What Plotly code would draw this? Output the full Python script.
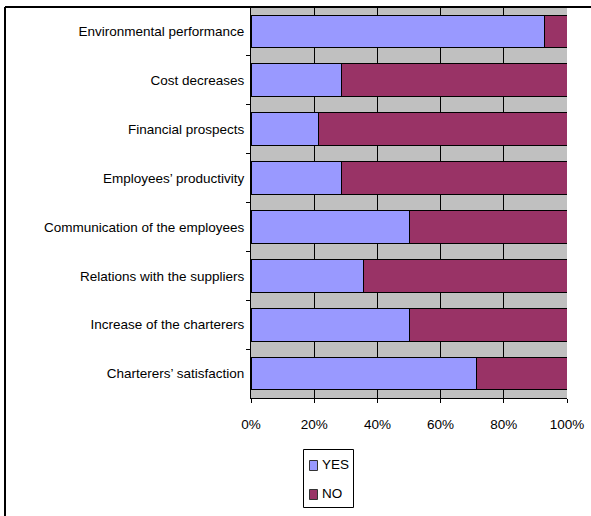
import plotly.graph_objects as go

categories = [
    "Environmental performance",
    "Cost decreases",
    "Financial prospects",
    "Employees\u2019 productivity",
    "Communication of the employees",
    "Relations with the suppliers",
    "Increase of the charterers",
    "Charterers\u2019 satisfaction",
]
series_names = ["YES", "NO"]
series_colors = ["#9999FF", "#993366"]
yes_pct = [92.9, 28.6, 21.4, 28.6, 50.0, 35.7, 50.0, 71.4]
no_pct = [7.1, 71.4, 78.6, 71.4, 50.0, 64.3, 50.0, 28.6]
x_ticks = [0, 20, 40, 60, 80, 100]
x_tick_labels = ["0%", "20%", "40%", "60%", "80%", "100%"]

FONT = "Liberation Sans, Arial, sans-serif"
W, H = 591, 516
L, R, T, B = 251, 24, 7, 118
pw = W - L - R
ph = H - T - B


def px_x(p):
    return (p - L) / pw


def px_y(p):
    return (H - B - p) / ph


fig = go.Figure()
for name, vals, col in zip(series_names, [yes_pct, no_pct], series_colors):
    fig.add_trace(go.Bar(
        y=categories, x=vals, name=name, orientation="h",
        marker=dict(color=col, line=dict(color="#000000", width=1)),
        width=0.67, showlegend=False,
    ))

# outer chart frame (left and top edges visible)
fig.add_shape(type="line", xref="paper", yref="paper",
              x0=px_x(5), x1=px_x(5), y0=px_y(7), y1=px_y(H + 5),
              line=dict(color="#000000", width=2))
fig.add_shape(type="line", xref="paper", yref="paper",
              x0=px_x(5), x1=px_x(W + 5), y0=px_y(7), y1=px_y(7),
              line=dict(color="#000000", width=2))

# legend box
fig.add_shape(type="rect", xref="paper", yref="paper",
              x0=px_x(303.5), x1=px_x(353.5), y0=px_y(449.5), y1=px_y(507.5),
              line=dict(color="#000000", width=1), fillcolor="#FFFFFF")
legend_rows = [464, 493]
for name, col, yc in zip(series_names, series_colors, legend_rows):
    fig.add_shape(type="rect", xref="paper", yref="paper",
                  x0=px_x(309.5), x1=px_x(317.5), y0=px_y(yc - 3.5), y1=px_y(yc + 6.5),
                  line=dict(color="#333333", width=1), fillcolor=col)
    fig.add_annotation(xref="paper", yref="paper", x=px_x(320), y=px_y(yc),
                       text=name, showarrow=False, xanchor="left", yanchor="middle",
                       font=dict(family=FONT, size=13.5, color="#000000"))

fig.update_layout(
    width=W, height=H,
    margin=dict(l=L, r=R, t=T, b=B, pad=0),
    barmode="stack",
    paper_bgcolor="#FFFFFF",
    plot_bgcolor="#C0C0C0",
    font=dict(family=FONT, size=13.5, color="#000000"),
    showlegend=False,
    xaxis=dict(
        range=[0, 100], tickvals=x_ticks, ticktext=x_tick_labels,
        showgrid=True, gridcolor="#000000", gridwidth=1,
        showline=True, linecolor="#000000", linewidth=1,
        ticks="outside", ticklen=4, tickcolor="#000000",
        ticklabelstandoff=10, zeroline=False, fixedrange=True,
    ),
    yaxis=dict(
        autorange="reversed", type="category",
        showgrid=False, showline=True, linecolor="#000000", linewidth=1,
        ticks="outside", ticklen=4, tickcolor="#000000", tickson="boundaries",
        ticklabelstandoff=3, fixedrange=True,
    ),
)

fig.write_html("out.html")
